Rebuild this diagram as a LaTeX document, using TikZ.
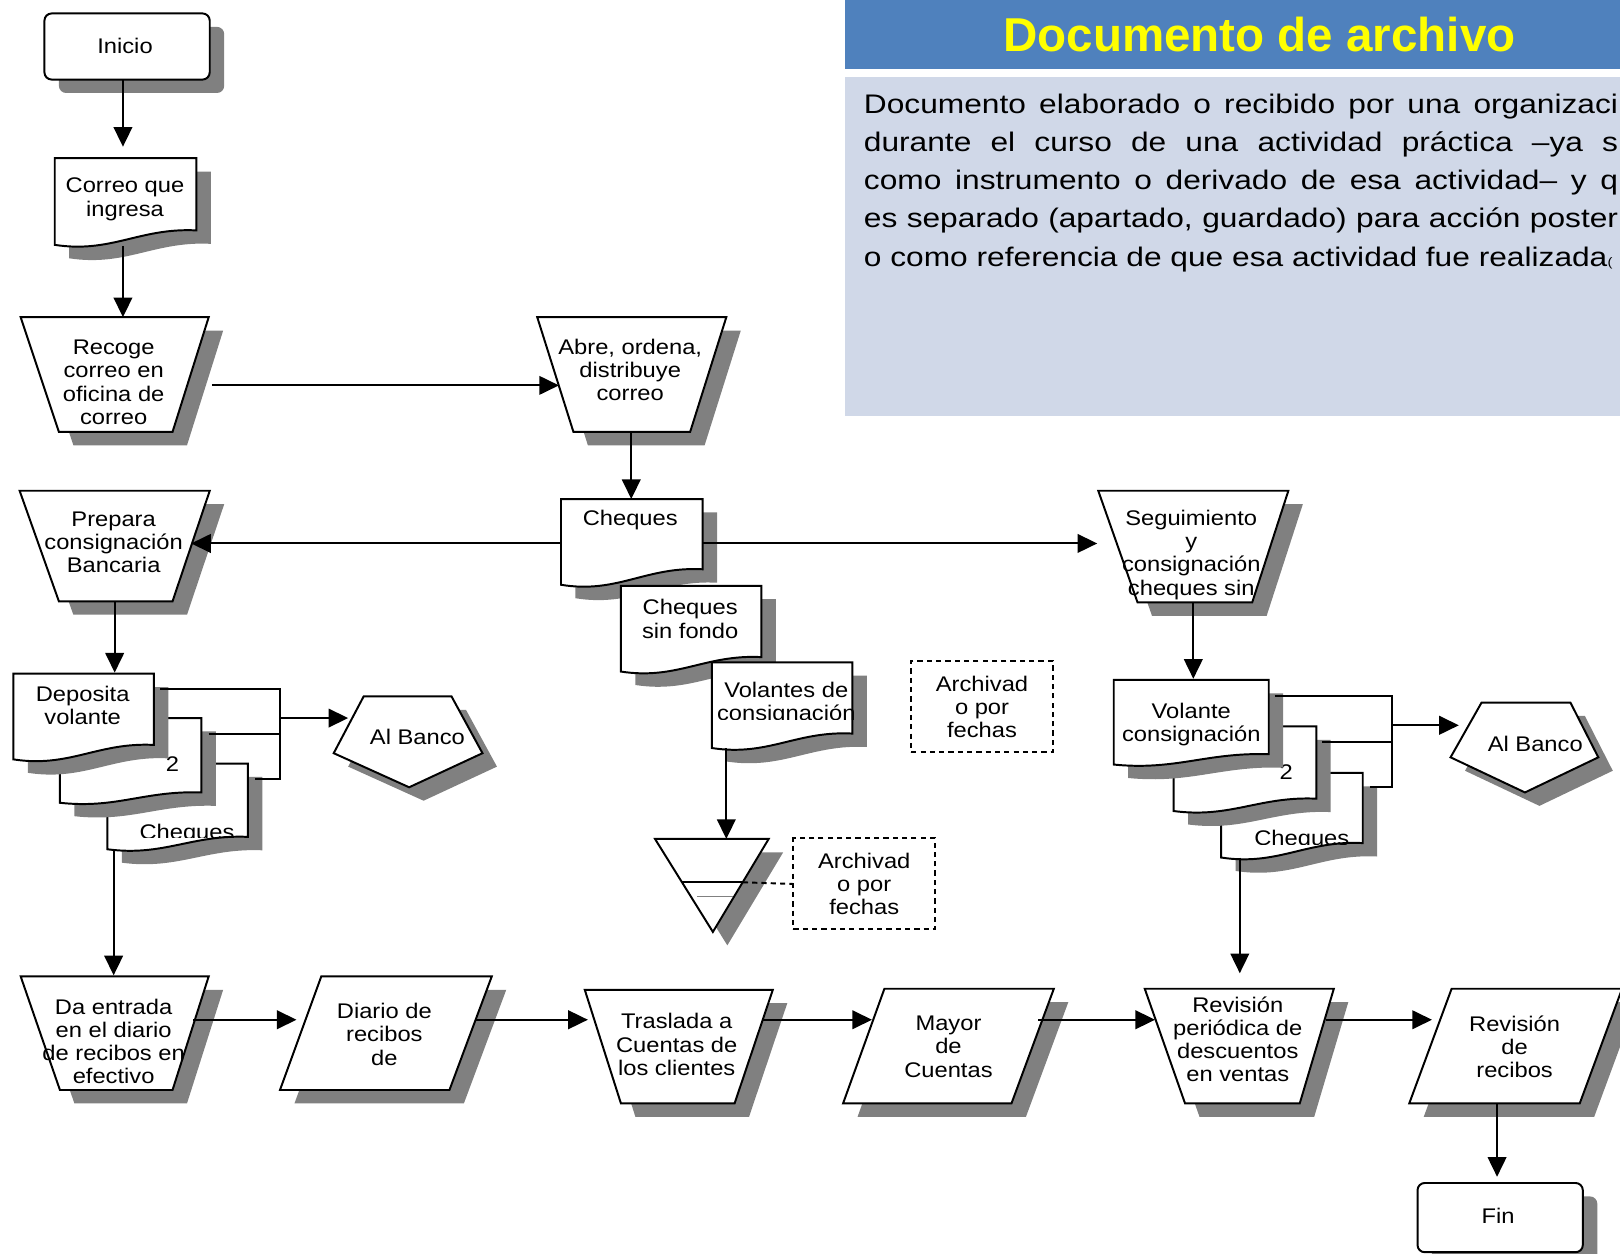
\documentclass[tikz,border=0pt]{standalone}
\usepackage{fontspec}
\usetikzlibrary{arrows.meta}
\newfontfamily\flowfont[FakeStretch=1.12]{Liberation Sans}
\newfontfamily\bodyfont[FakeStretch=1.18]{Liberation Sans}
\newfontfamily\headfont{Liberation Sans}
\definecolor{shadowc}{HTML}{808080}
\definecolor{headblue}{HTML}{4F81BD}
\definecolor{boxblue}{HTML}{D0D8E8}
\definecolor{titleyellow}{HTML}{FFFF00}
\newcommand\mkpoly[1]{\fill[shadowfill,shift={(14,13)}] #1 -- cycle; \filldraw[outline] #1 -- cycle;}
\newcommand\mkdoc[5]{%
  \fill[shadowfill,shift={(14,13)}] (#1,#2) -- (#3,#2) -- (#3,#5) .. controls ({#1+0.6*(#3-#1)},{#4-1.2*(#4-#5)}) and ({#1+0.4*(#3-#1)},{#4+0.6*(#4-#5)}) .. (#1,#4) -- cycle;
  \filldraw[outline] (#1,#2) -- (#3,#2) -- (#3,#5) .. controls ({#1+0.6*(#3-#1)},{#4-1.2*(#4-#5)}) and ({#1+0.4*(#3-#1)},{#4+0.6*(#4-#5)}) .. (#1,#4) -- cycle;}
\begin{document}
\begin{tikzpicture}[x=1pt,y=-1pt,
  outline/.style={draw=black,fill=white,line width=1.9pt,line join=miter},
  shadowfill/.style={fill=shadowc},
  conn/.style={draw=black,line width=1.9pt},
  arr/.style={conn,-{Triangle[length=19pt,width=18pt]}},
  flow/.style={font=\flowfont\fontsize{20.5}{22.5}\selectfont,align=center,inner sep=0pt},
  body/.style={font=\bodyfont\fontsize{26}{37}\selectfont,inner sep=0pt,anchor=base west},
  dashbox/.style={draw=black,line width=1.9pt,dash pattern=on 5pt off 4pt,minimum width=137pt,minimum height=88pt}]
\clip (0,0) rectangle (1568,1213.7);
% ---------- definition panel
\fill[headblue] (818,0) rectangle (1568,67);
\fill[boxblue] (818,75) rectangle (1568,403);
\node[font=\headfont\bfseries\fontsize{46}{46}\selectfont,text=titleyellow,inner sep=0pt,anchor=base] (title) at (1219,50) {Documento de archivo};
\node[body] (body1) at (836,109.5) {\makebox[730pt][s]{Documento elaborado o recibido por una organizaci}};
\node[body] (body2) at (836,146.5) {\makebox[730pt][s]{durante el curso de una actividad práctica –ya s}};
\node[body] (body3) at (836,183.5) {\makebox[730pt][s]{como instrumento o derivado de esa actividad– y q}};
\node[body] (body4) at (836,220.5) {\makebox[730pt][s]{es separado (apartado, guardado) para acción poster}};
\node[body] (body5) at (836,257.5) {o como referencia de que esa actividad fue realizada{\fontsize{12}{12}\selectfont(}};
% ---------- terminals
\fill[shadowfill,rounded corners=7pt] (57,26) rectangle (217,90);
\filldraw[outline,rounded corners=7pt] (43,13) rectangle (203,77);
\node[flow] (inicio) at (121,44) {Inicio};
\fill[shadowfill,rounded corners=7pt] (1386,1158) rectangle (1546,1225);
\filldraw[outline,rounded corners=7pt] (1372,1145) rectangle (1532,1212);
\node[flow] (fin) at (1450,1177) {Fin};
% ---------- documents
\mkdoc{53}{153}{190}{237}{223}
\node[flow] (correo) at (121,193) {Correo que\\ingresa};
\mkdoc{543}{483}{680}{566}{551}
\node[flow] (cheques) at (610,503) {Cheques};
\mkdoc{601}{567}{737}{650}{636}
\node[flow] (chsf) at (668,599) {Cheques\\sin fondo};
\mkdoc{689}{641}{825}{724}{710}
\begin{scope}
\clip (689,641) rectangle (845,696);
\node[flow] (volantes) at (761,681) {Volantes de\\consignación};
\end{scope}
% left stack
\mkdoc{104}{739}{240}{822}{810}
\begin{scope}
\clip (104,739) rectangle (260,811);
\node[flow] (chqleft) at (181,807) {Cheques};
\end{scope}
\mkdoc{58}{695}{195}{777}{767}
\node[flow] (twoleft) at (167,740) {2};
\mkdoc{13}{652}{149}{735}{721}
\node[flow] (deposita) at (80,683) {Deposita\\volante};
% right stack
\mkdoc{1182}{748}{1319}{830}{816}
\begin{scope}
\clip (1182,748) rectangle (1340,817);
\node[flow] (chqright) at (1260,813) {Cheques};
\end{scope}
\mkdoc{1136}{703}{1274}{785}{773}
\node[flow] (tworight) at (1245,747) {2};
\mkdoc{1078}{658}{1228}{740}{730}
\node[flow] (volante) at (1153,701) {Volante\\consignación};
% ---------- manual operations (trapezoids)
\mkpoly{(20,307) -- (202,307) -- (167,418) -- (57,418)}
\node[flow] (recoge) at (110,370) {Recoge\\correo en\\oficina de\\correo};
\mkpoly{(520,307) -- (703,307) -- (668,418) -- (555,418)}
\node[flow] (abre) at (610,358) {Abre, ordena,\\distribuye\\correo};
\mkpoly{(19,475) -- (203,475) -- (167,582) -- (57,582)}
\node[flow] (prepara) at (110,525) {Prepara\\consignación\\Bancaria};
\mkpoly{(1063,475) -- (1247,475) -- (1212,583) -- (1101,583)}
\node[flow] (seguimiento) at (1153,537) {Seguimiento\\y\\consignación\\cheques sin};
\mkpoly{(20,945) -- (202,945) -- (167,1055) -- (58,1055)}
\node[flow] (daentrada) at (110,1008) {Da entrada\\en el diario\\de recibos en\\efectivo};
\mkpoly{(566,958) -- (748,958) -- (711,1068) -- (601,1068)}
\node[flow] (traslada) at (655,1011) {Traslada a\\Cuentas de\\los clientes};
\mkpoly{(1108,957) -- (1291,957) -- (1258,1068) -- (1147,1068)}
\node[flow] (revper) at (1198,1006) {Revisión\\periódica de\\descuentos\\en ventas};
% ---------- data (parallelograms)
\mkpoly{(311,945) -- (476,945) -- (435,1055) -- (271,1055)}
\node[flow] (diario) at (372,1001) {Diario de\\recibos\\de};
\mkpoly{(856,957) -- (1020,957) -- (979,1068) -- (816,1068)}
\node[flow] (mayor) at (918,1013) {Mayor\\de\\Cuentas};
\mkpoly{(1405,957) -- (1570,957) -- (1529,1068) -- (1364,1068)}
\node[flow] (revrec) at (1466,1013) {Revisión\\de\\recibos};
% ---------- off-page references
\mkpoly{(352,674) -- (437,674) -- (467,729) -- (396,762) -- (323,729)}
\node[flow] (banco1) at (404,713) {Al Banco};
\mkpoly{(1434,680) -- (1520,680) -- (1547,733) -- (1476,767) -- (1404,733)}
\node[flow] (banco2) at (1486,720) {Al Banco};
% ---------- merge (file)
\mkpoly{(634,812) -- (744,812) -- (690,902)}
\draw[conn] (660,854) -- (719,854);
\draw[shadowc,line width=1pt] (675,868) -- (709,868);
\coordinate (mergee) at (719,854);
% ---------- dashed annotations
\node[dashbox,flow] (arch1) at (950.5,684) {Archivad\\o por\\fechas};
\node[dashbox,flow] (arch2) at (836.5,855.5) {Archivad\\o por\\fechas};
\draw[conn,dash pattern=on 5pt off 4pt] (mergee) -- (arch2.west);
% ---------- stack brackets
\draw[conn] (155,667) -- (271,667) -- (271,754) -- (247,754);
\draw[conn] (202,710) -- (271,710);
\draw[conn] (1234,674) -- (1347,674) -- (1347,762) -- (1326,762);
\draw[conn] (1280,718) -- (1347,718);
% ---------- connector end points
\coordinate (a1s) at (119,77);    \coordinate (a1e) at (119,142);
\coordinate (a2s) at (119,238);   \coordinate (a2e) at (119,307);
\coordinate (a3s) at (205,373);   \coordinate (a3e) at (541,373);
\coordinate (a4s) at (611,418);   \coordinate (a4e) at (611,483);
\coordinate (a5s) at (543,526);   \coordinate (a5e) at (185,526);
\coordinate (a6s) at (680,526);   \coordinate (a6e) at (1062,526);
\coordinate (a7s) at (111,582);   \coordinate (a7e) at (111,651);
\coordinate (a8s) at (271,695);   \coordinate (a8e) at (337,695);
\coordinate (a9s) at (110,822);   \coordinate (a9e) at (110,944);
\coordinate (a10s) at (1155,583); \coordinate (a10e) at (1155,657);
\coordinate (a11s) at (1347,702); \coordinate (a11e) at (1412,702);
\coordinate (a12s) at (1200,830); \coordinate (a12e) at (1200,942);
\coordinate (a13s) at (703,724);  \coordinate (a13e) at (703,812);
\coordinate (a14s) at (187,987);  \coordinate (a14e) at (287,987);
\coordinate (a15s) at (461,987);  \coordinate (a15e) at (569,987);
\coordinate (a16s) at (738,987);  \coordinate (a16e) at (844,987);
\coordinate (a17s) at (1005,987); \coordinate (a17e) at (1118,987);
\coordinate (a18s) at (1283,987); \coordinate (a18e) at (1386,987);
\coordinate (a19s) at (1449,1068);\coordinate (a19e) at (1449,1139);
\foreach \i in {1,...,19} {\draw[arr] (a\i s) -- (a\i e);}
\end{tikzpicture}
\end{document}
